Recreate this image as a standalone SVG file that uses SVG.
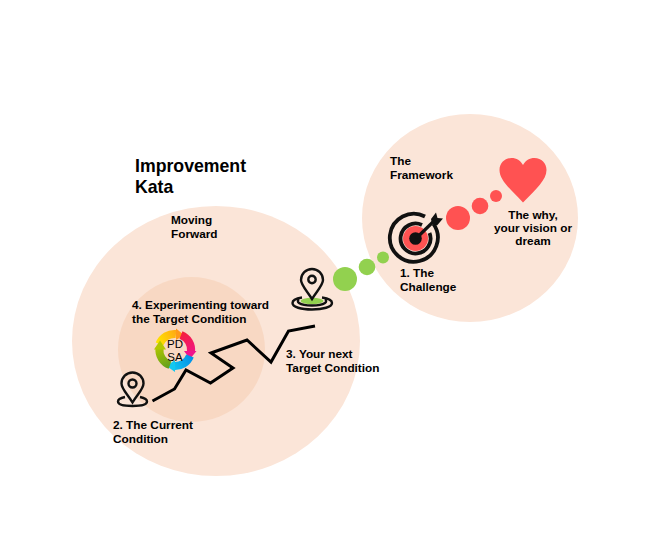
<svg xmlns="http://www.w3.org/2000/svg" width="672" height="559" viewBox="0 0 672 559">
<style>
text{font-family:"Liberation Sans",Arial,sans-serif;font-weight:700;font-size:11.8px;fill:#000}
.t{font-size:17.7px}
.pin{fill:none;stroke:#111;stroke-width:2.4}
.m{text-anchor:middle}
.arc{fill:none;stroke-width:8}
</style>
<defs>
<linearGradient id="g1" gradientUnits="userSpaceOnUse" x1="158" y1="345" x2="183" y2="333"><stop offset="0" stop-color="#ffe600"/><stop offset="1" stop-color="#ff9a1a"/></linearGradient>
<linearGradient id="g2" gradientUnits="userSpaceOnUse" x1="180" y1="333" x2="192" y2="356"><stop offset="0" stop-color="#f5203a"/><stop offset="1" stop-color="#f0148c"/></linearGradient>
<linearGradient id="g3" gradientUnits="userSpaceOnUse" x1="191" y1="356" x2="170" y2="366"><stop offset="0" stop-color="#0090e8"/><stop offset="1" stop-color="#12c8f0"/></linearGradient>
<linearGradient id="g4" gradientUnits="userSpaceOnUse" x1="170" y1="368" x2="158" y2="345"><stop offset="0" stop-color="#5e9e1e"/><stop offset="1" stop-color="#b4c800"/></linearGradient>
</defs>
<rect width="672" height="559" fill="#fff"/>
<g id="circle-moving-forward"><ellipse cx="216" cy="341" rx="144" ry="135" fill="#fbe5d8"/></g>
<g id="circle-experimenting"><ellipse cx="191.500" cy="349.500" rx="73.500" ry="72.500" fill="#f8d8c3"/></g>
<g id="circle-framework"><ellipse cx="470" cy="218" rx="108" ry="104" fill="#fbe5d8"/></g>
<g id="title"><text class="t" x="135" y="171.500">Improvement</text><text class="t" x="135" y="192.500">Kata</text></g>
<g id="label-framework"><text x="390" y="165">The</text><text x="390" y="179">Framework</text></g>
<g id="label-moving"><text x="171" y="224">Moving</text><text x="171" y="238">Forward</text></g>
<g id="dots-red"><circle cx="458" cy="218" r="12" fill="#ff5252"/><circle cx="480" cy="206" r="8.300" fill="#ff5252"/><circle cx="496" cy="196" r="6" fill="#ff5252"/></g>
<g id="dots-green"><circle cx="345" cy="279" r="12" fill="#92d14f"/><circle cx="367" cy="267" r="8.300" fill="#92d14f"/><circle cx="383" cy="257.500" r="6" fill="#92d14f"/></g>
<g id="heart"><path d="M523 202.500C510 189 499.500 180 499.500 170C499.500 163 505 158 511.500 158C516.500 158 520.500 160.500 523 165C525.500 160.500 529.500 158 534.500 158C541.500 158 546.500 163 546.500 170C546.500 180 536 189 523 202.500Z" fill="#ff5252"/></g>
<g id="label-why"><text class="m" x="533" y="218.500">The why,</text><text class="m" x="533" y="231.500">your vision or</text><text class="m" x="533" y="245">dream</text></g>
<g id="target">
<path d="M433.500 224A24 24 0 1 1 425 216.500" fill="none" stroke="#111" stroke-width="3.800"/>
<circle cx="415.500" cy="238.500" r="12.500" fill="#ff5252"/>
<path d="M429.500 233A15 15 0 1 1 422 225" fill="none" stroke="#111" stroke-width="3.800"/>
<circle cx="415.500" cy="238.500" r="6.300" fill="#111"/>
<path d="M416 238.500L434 221" stroke="#111" stroke-width="3.200"/>
<path d="M431 219L436 212.500L437.500 218L443 218.500L437 225.500L432 224Z" fill="#111"/>
</g>
<g id="label-challenge"><text x="400" y="277">1. The</text><text x="400" y="291">Challenge</text></g>
<g id="pin-next">
<ellipse cx="312" cy="301" rx="11.500" ry="3.200" fill="#92d14f"/>
<path class="pin" d="M312 299C307 291 301 285 301 280A11 11 0 0 1 323 280C323 285 317 291 312 299Z"/>
<circle class="pin" cx="312" cy="279.500" r="3.700"/>
<path class="pin" d="M302 297.500C295 298.500 292.500 300.500 292.500 303C292.500 307 301 309.500 312 309.500C323 309.500 332 307 332 303C332 300.500 329 298.500 322 297.500"/>
<path class="pin" d="M299 299C297.500 300 297.500 302 299 303C302 305 307 305.500 312 305.500C317 305.500 322 305 325 303C326.500 302 326.500 300 325 299" stroke-width="1.600"/>
</g>
<g id="pin-current">
<path class="pin" d="M132.500 402.500C127.500 394 121.500 389 121.500 383.500A11 11 0 0 1 143.500 383.500C143.500 389 137.500 394 132.500 402.500Z"/>
<circle class="pin" cx="132.500" cy="383.500" r="4"/>
<path class="pin" d="M125 397C120 398 118 400 118 401.500C118 404.500 124 406 132.500 406C141 406 147 404.500 147 401.500C147 400 145 398 140 397"/>
</g>
<g id="connectors"><path d="M152.500 401L174.500 389L186 370L210.500 383L233 368L211 353L247 340L271 362L288.500 331L315 326" fill="none" stroke="#000" stroke-width="3" stroke-linejoin="miter"/></g>
<g id="pdsa">
<path class="arc" stroke="url(#g1)" d="M159.500 344A16 16 0 0 1 176 334"/>
<path d="M176 328.500L184 335L176 340Z" fill="#ff9a1a"/>
<path class="arc" stroke="url(#g2)" d="M181 335A16 16 0 0 1 191 352"/>
<path d="M184 351L196.500 351L190 359Z" fill="#f0148c"/>
<path class="arc" stroke="url(#g3)" d="M190 356A16 16 0 0 1 174 366"/>
<path d="M175 360L175 372L166.500 366Z" fill="#12c8f0"/>
<path class="arc" stroke="url(#g4)" d="M170 365A16 16 0 0 1 159.500 348"/>
<path d="M154 349.500L166 349.500L160 340.500Z" fill="#b4c800"/>
<text class="m" x="175" y="348" style="font-weight:400;font-size:11.500px">PD</text>
<text class="m" x="175" y="361" style="font-weight:400;font-size:11.500px">SA</text>
</g>
<g id="label-current"><text x="113" y="429">2. The Current</text><text x="113" y="443">Condition</text></g>
<g id="label-next"><text x="286" y="358">3. Your next</text><text x="286" y="372">Target Condition</text></g>
<g id="label-experimenting"><text x="132" y="309">4. Experimenting toward</text><text x="132" y="323">the Target Condition</text></g>
</svg>
